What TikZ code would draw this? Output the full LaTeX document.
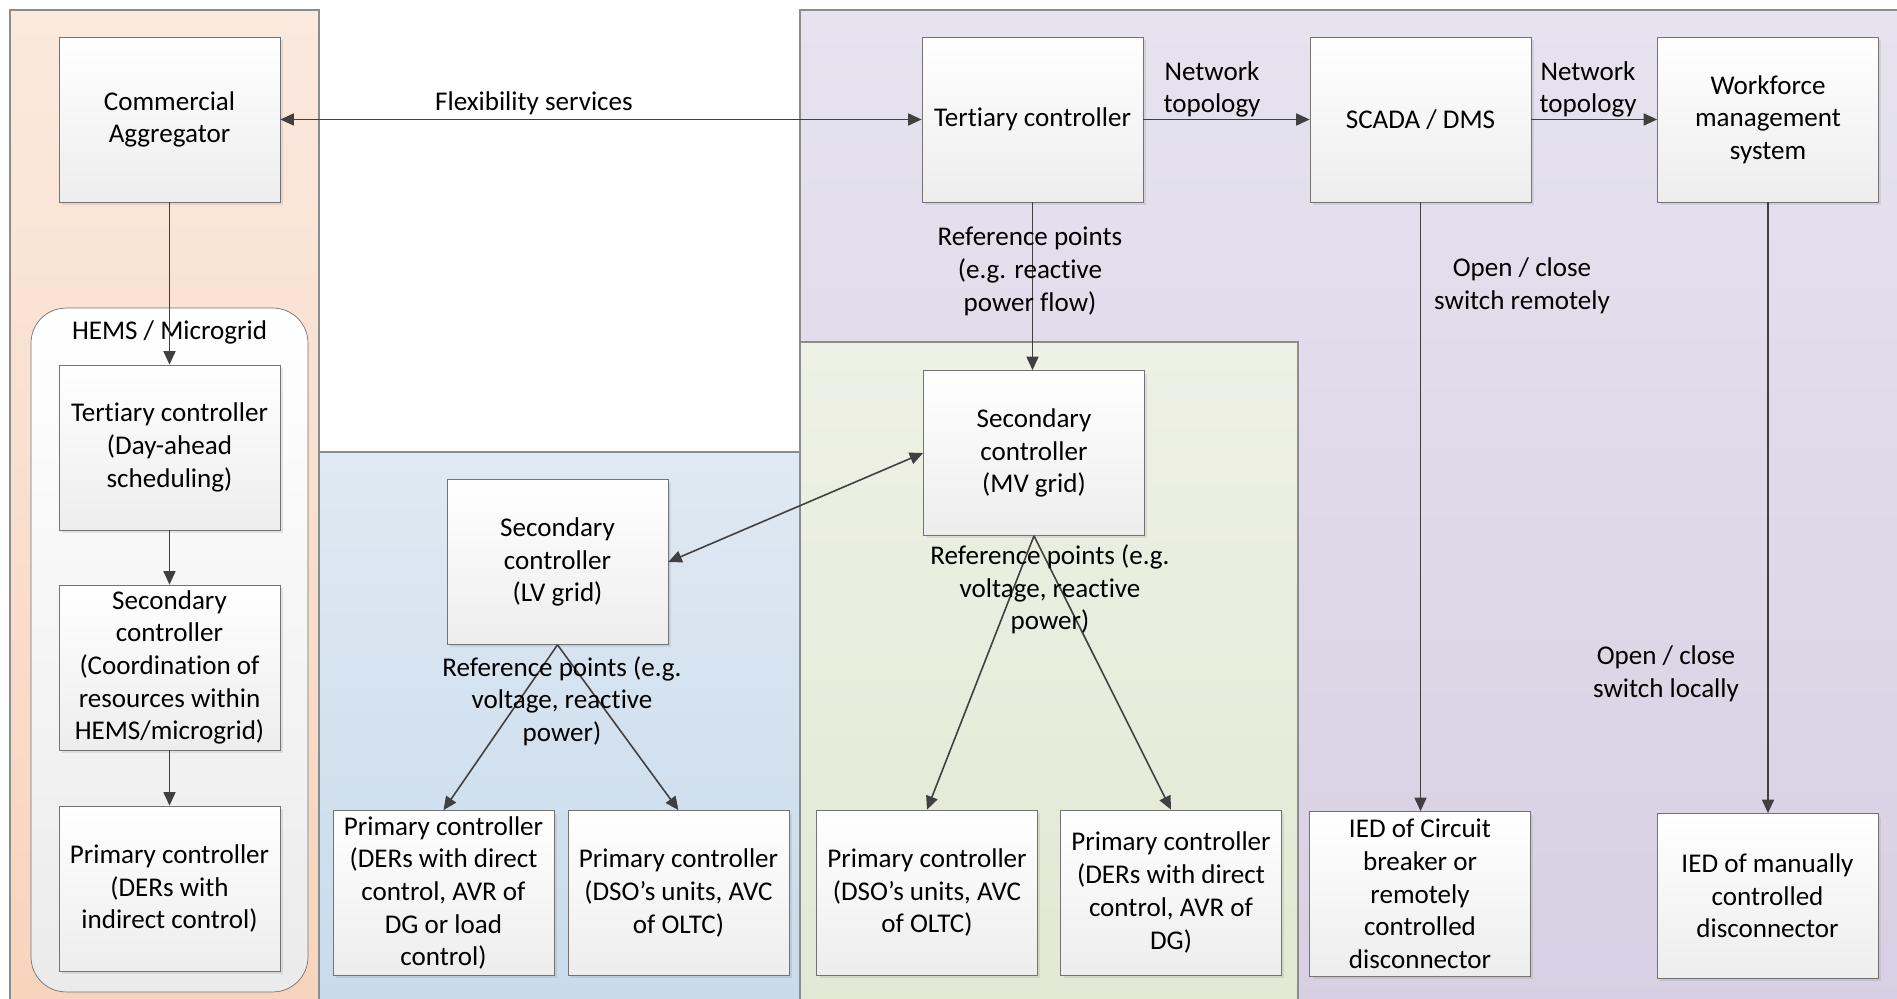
\documentclass[tikz,border=0pt]{standalone}
\usepackage{fontspec}
\setmainfont[Ligatures=NoCommon]{Carlito}
\usetikzlibrary{positioning,arrows.meta,shadows}

\definecolor{orangeT}{RGB}{251,233,222}
\definecolor{orangeB}{RGB}{247,212,188}
\definecolor{blueT}{RGB}{223,233,243}
\definecolor{blueB}{RGB}{200,218,235}
\definecolor{greenT}{RGB}{238,241,229}
\definecolor{greenB}{RGB}{226,232,211}
\definecolor{purpleT}{RGB}{230,227,239}
\definecolor{purpleB}{RGB}{215,207,227}

\begin{document}
\begin{tikzpicture}[x=0.02cm,y=-0.02cm,
  font=\fontsize{15.4}{18.6}\selectfont,
  box/.style={draw=black!55,top color=white,bottom color=black!7,
    minimum width=4.42cm,minimum height=3.3cm,align=center,inner sep=1pt,
    drop shadow={opacity=0.18,shadow xshift=0.06cm,shadow yshift=-0.06cm}},
  lbl/.style={align=center,inner sep=0pt},
  panel/.style={draw=black!45,line width=0.8pt},
  link/.style={draw=black!75,line width=0.9pt,-{Triangle[length=0.27cm,width=0.24cm]}},
  link2/.style={link,{Triangle[length=0.27cm,width=0.24cm]}-{Triangle[length=0.27cm,width=0.24cm]}}]

  \useasboundingbox (0,0) rectangle (1897,999);

  % coloured areas
  \path[panel,top color=purpleT,bottom color=purpleB] (800,10) rectangle (1920,1020);
  \path[panel,top color=greenT,bottom color=greenB] (800,342) rectangle (1298,1020);
  \path[panel,top color=orangeT,bottom color=orangeB] (10,10) rectangle (319,1020);
  \path[panel,top color=blueT,bottom color=blueB] (319,452) rectangle (800,1020);

  % HEMS / microgrid
  \node[draw=black!55,rounded corners=0.7cm,top color=white,bottom color=black!8,
    minimum width=5.54cm,minimum height=13.68cm] (hems) at (169.5,650) {};
  \node[lbl] (hemstitle) at (169.5,332) {HEMS / Microgrid};

  \node[box] (agg) at (169.5,119.5) {Commercial\\Aggregator};
  \node[box] (mtert) at (169.5,447.5) {Tertiary controller\\(Day-ahead\\scheduling)};
  \node[box] (msec) at (169.5,667.5) {Secondary\\controller\\(Coordination of\\resources within\\HEMS/microgrid)};
  \node[box] (mprim) at (169.5,888.5) {Primary controller\\(DERs with\\indirect control)};

  % LV grid
  \node[box] (lvsec) at (557.5,562) {Secondary\\controller\\(LV grid)};
  \node[box] (lvprimA) at (443.5,893) {Primary controller\\(DERs with direct\\control, AVR of\\DG or load\\control)};
  \node[box] (lvprimB) at (678.5,893) {Primary controller\\(DSO’s units, AVC\\of OLTC)};

  % MV grid
  \node[box] (mvsec) at (1034,453) {Secondary\\controller\\(MV grid)};
  \node[box] (mvprimA) at (927,892.5) {Primary controller\\(DSO’s units, AVC\\of OLTC)};
  \node[box] (mvprimB) at (1171,892.5) {Primary controller\\(DERs with direct\\control, AVR of\\DG)};

  % DSO
  \node[box] (dsotert) at (1032.5,119.5) {Tertiary controller};
  \node[box] (scada) at (1420.5,119.5) {SCADA / DMS};
  \node[box] (wfm) at (1768,119.5) {Workforce\\management\\system};
  \node[box] (iedcb) at (1420,894) {IED of Circuit\\breaker or\\remotely\\controlled\\disconnector};
  \node[box] (iedman) at (1767.5,896) {IED of manually\\controlled\\disconnector};

  % connections
  \draw[link2] (agg) -- (dsotert);
  \draw[link] (agg) -- (mtert);
  \draw[link] (mtert) -- (msec);
  \draw[link] (msec) -- (mprim);
  \draw[link] (dsotert.south) -- (dsotert.south |- mvsec.north);
  \draw[link2] (lvsec.east) -- (mvsec.west);
  \draw[link] (lvsec.south) -- (lvprimA.north);
  \draw[link] (lvsec.south) -- (lvprimB.north);
  \draw[link] (mvsec.south) -- (mvprimA.north);
  \draw[link] (mvsec.south) -- (mvprimB.north);
  \draw[link] (dsotert) -- (scada);
  \draw[link] (scada) -- (wfm);
  \draw[link] (scada.south) -- (scada.south |- iedcb.north);
  \draw[link] (wfm.south) -- (wfm.south |- iedman.north);

  % labels
  \node[lbl] (flex) at (534,103) {Flexibility services};
  \node[lbl] (topo1) at (1212,89.5) {Network\\topology};
  \node[lbl] (topo2) at (1588,89.5) {Network\\topology};
  \node[lbl] (refdso) at (1030,271.5) {Reference points\\(e.g. reactive\\power flow)};
  \node[lbl] (remote) at (1522,286) {Open / close\\switch remotely};
  \node[lbl] (local) at (1666,673.5) {Open / close\\switch locally};
  \node[lbl] (reflv) at (562,701) {Reference points (e.g.\\voltage, reactive\\power)};
  \node[lbl] (refmv) at (1050,589.5) {Reference points (e.g.\\voltage, reactive\\power)};
\end{tikzpicture}
\end{document}
